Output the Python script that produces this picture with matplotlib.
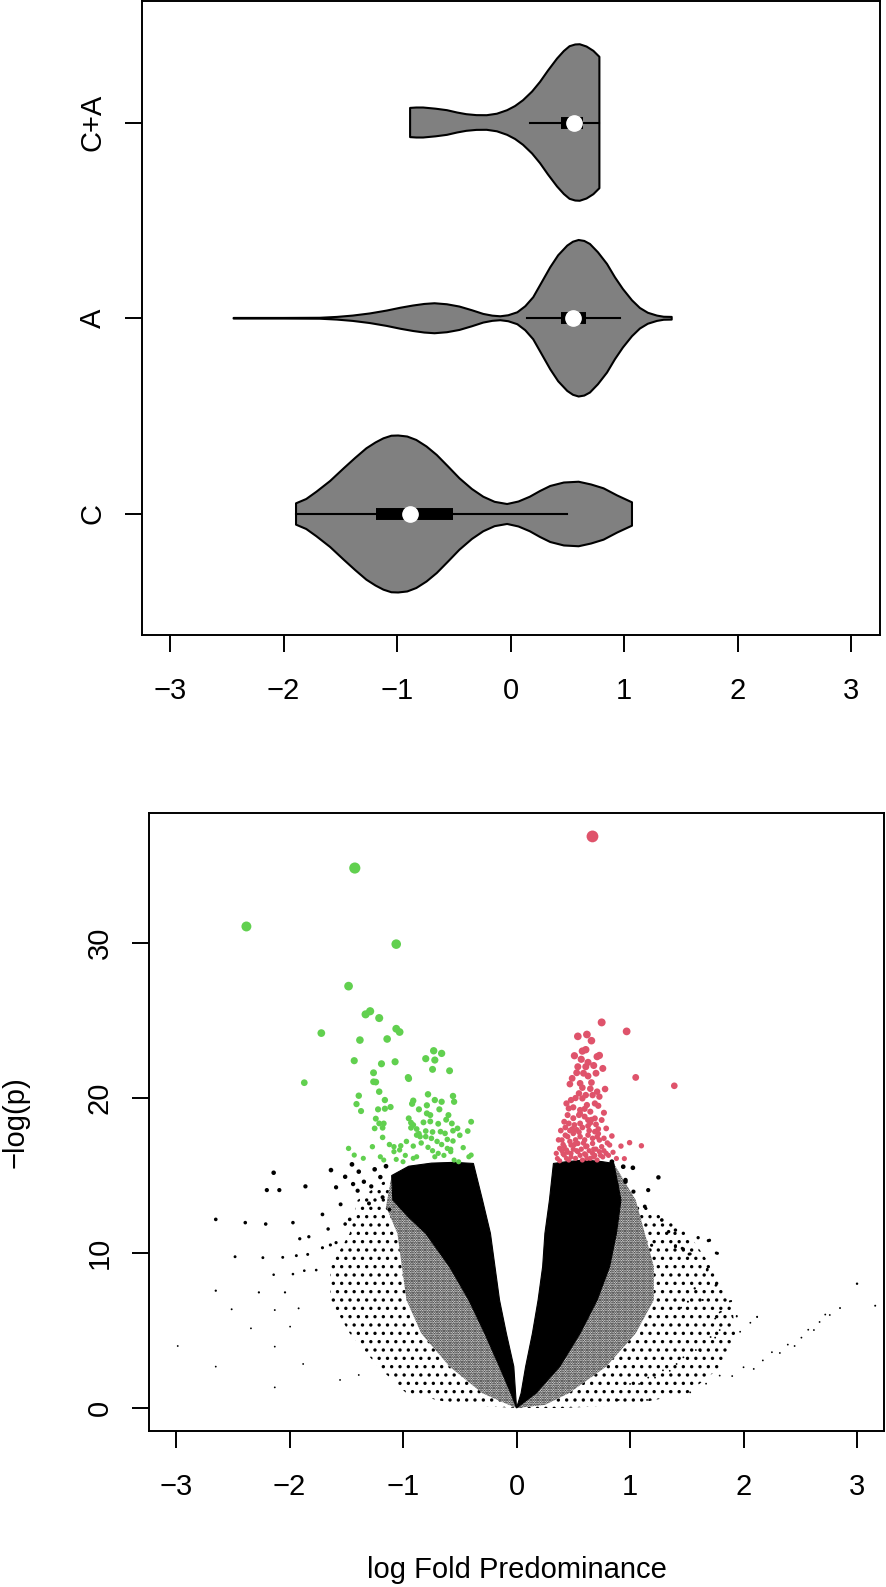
import numpy as np
import matplotlib.pyplot as plt

plt.rcParams['font.family'] = ['Liberation Sans', 'DejaVu Sans']
plt.rcParams['hatch.color'] = 'black'
plt.rcParams['hatch.linewidth'] = 1.2

# ---------------- violin panel data ----------------
groups = ['C', 'A', 'C+A']

# density outline: x positions and relative half-width (1 = widest)
c_x = [-1.89, -1.80, -1.71, -1.59, -1.47, -1.37, -1.27, -1.19, -1.12, -1.05, -0.99,
       -0.91, -0.83, -0.74, -0.65, -0.55, -0.45, -0.34, -0.24, -0.14, -0.03, 0.07,
       0.17, 0.26, 0.35, 0.47, 0.60, 0.71, 0.82, 0.94, 1.07]
c_d = [0.136, 0.191, 0.284, 0.420, 0.582, 0.713, 0.837, 0.911, 0.964, 0.997, 1.0,
       0.987, 0.943, 0.860, 0.752, 0.605, 0.455, 0.318, 0.220, 0.155, 0.127, 0.159,
       0.220, 0.293, 0.357, 0.401, 0.411, 0.376, 0.327, 0.236, 0.149]

a_x = [-2.44, -2.0, -1.68, -1.53, -1.39, -1.24, -1.09, -0.97, -0.86, -0.76, -0.67,
       -0.56, -0.45, -0.34, -0.24, -0.16, -0.09, -0.02, 0.06, 0.13, 0.20, 0.27, 0.35,
       0.42, 0.50, 0.55, 0.60, 0.65, 0.70, 0.77, 0.85, 0.92, 0.99, 1.07, 1.14, 1.21,
       1.29, 1.35, 1.42]
a_d = [0.004, 0.004, 0.006, 0.017, 0.034, 0.061, 0.098, 0.134, 0.162, 0.182, 0.191,
       0.178, 0.149, 0.102, 0.055, 0.033, 0.025, 0.038, 0.076, 0.153, 0.268, 0.446,
       0.650, 0.803, 0.926, 0.975, 0.997, 0.985, 0.946, 0.841, 0.692, 0.522, 0.373,
       0.229, 0.131, 0.070, 0.034, 0.019, 0.017]

ca_x = [-0.885, -0.83, -0.77, -0.66, -0.56, -0.47, -0.39, -0.30, -0.21, -0.12, -0.03,
        0.04, 0.11, 0.19, 0.26, 0.33, 0.41, 0.47, 0.52, 0.57, 0.61, 0.67, 0.73, 0.783]
ca_d = [0.186, 0.191, 0.191, 0.176, 0.157, 0.127, 0.106, 0.094, 0.093, 0.112, 0.157,
        0.210, 0.284, 0.395, 0.518, 0.662, 0.815, 0.911, 0.972, 0.994, 0.997, 0.968,
        0.913, 0.837]

# box stats: whisker low, q1, median, q3, whisker high
c_box = [-1.89, -1.185, -0.885, -0.51, 0.495]
a_box = [0.143, 0.442, 0.553, 0.662, 0.965]
ca_box = [0.172, 0.442, 0.559, 0.636, 0.783]

# ---------------- volcano panel data ----------------
green_x = [-2.38, -1.425, -1.06, -1.48, -1.33, -1.29, -1.21, -1.72, -1.06, -1.03, -1.38,
           -1.14, -1.87, -1.43, -1.19, -1.07, -1.26, -1.26, -1.24, -0.95, -0.955, -0.73,
           -0.66, -0.80, -0.72, -0.74, -0.59, -1.21, -1.39, -1.41, -1.37, -1.16, -1.22,
           -1.16, -1.11, -0.91, -0.92, -0.78, -0.79, -0.72, -0.66, -0.56, -0.55, -0.86,
           -0.79, -0.68, -1.24, -1.21, -1.17, -1.25, -1.18, -1.18, -0.95, -0.93, -0.91,
           -0.93, -0.88, -0.82, -0.76, -0.69, -0.80, -0.74, -0.67, -0.63, -0.56, -0.57,
           -0.52, -0.43, -0.40, -0.88, -0.85, -0.80, -0.75, -0.61, -0.56, -1.48, -1.27,
           -1.08, -1.02, -1.03, -1.08, -0.91, -0.78, -0.74, -0.69, -0.61, -0.58, -0.58,
           -1.43, -1.35, -1.20, -1.17, -1.06, -1.00, -0.91, -0.88, -0.72, -0.55, -0.42,
           -0.40, -0.51,
           -0.84, -0.70, -0.64, -0.97, -0.60, -0.47, -0.66, -0.76, -0.86, -0.62, -0.50,
           -1.12, -0.98]
green_y = [31.07, 34.84, 29.93, 27.22, 25.4, 25.6, 25.16, 24.19, 24.47, 24.26, 23.74,
           23.81, 20.99, 22.41, 22.21, 22.34, 21.63, 21.05, 21.03, 21.25, 21.33, 23.05,
           22.88, 22.54, 22.45, 21.85, 21.76, 20.41, 20.15, 19.61, 19.16, 19.87, 19.27,
           19.31, 19.42, 19.83, 19.63, 20.24, 19.53, 19.87, 19.76, 20.13, 19.76, 19.27,
           19.01, 19.27, 18.67, 18.36, 18.36, 18.04, 18.08, 17.46, 18.69, 18.41, 18.26,
           18.08, 18.0, 18.43, 18.49, 18.34, 17.87, 17.81, 17.83, 17.72, 17.89, 18.36,
           18.04, 17.87, 18.47, 17.61, 17.51, 17.51, 17.40, 17.33, 17.23, 16.75, 16.86,
           16.86, 16.92, 16.65, 16.54, 16.90, 16.82, 16.60, 16.43, 16.75, 16.69, 16.54,
           16.32, 16.11, 16.21, 16.0, 16.04, 15.89, 16.11, 16.21, 16.21, 16.0, 16.21,
           16.32, 15.89,
           17.1, 17.2, 16.3, 17.2, 18.9, 16.8, 17.0, 18.9, 17.7, 18.6, 17.6,
           17.0, 16.3]

red_x = [0.669, 0.75, 0.97, 0.54, 0.66, 0.58, 0.61, 0.51, 0.71, 0.73, 0.54, 0.61, 0.76,
         0.53, 0.63, 0.49, 1.05, 0.47, 0.56, 0.58, 1.39, 0.78, 0.71, 0.67, 0.73, 0.61,
         0.58, 0.62, 0.69, 0.44, 0.48, 0.46, 0.56, 0.65, 0.77, 0.42, 0.46, 0.51, 0.56,
         0.63, 0.69, 0.75, 0.79, 0.84, 0.40, 0.45, 0.50, 0.56, 0.63, 0.69, 0.73, 0.42,
         0.48, 0.54, 0.61, 0.67, 0.75, 0.82, 0.92, 0.996, 1.10, 0.35, 0.42, 0.48, 0.54,
         0.61, 0.67, 0.73, 0.79, 0.46, 0.52, 0.58, 0.65, 0.71, 0.95, 0.38, 0.44,
         0.45, 0.50, 0.55, 0.60, 0.65, 0.70, 0.47, 0.53, 0.58, 0.64, 0.72, 0.43, 0.52,
         0.60, 0.67, 0.77, 0.40, 0.50, 0.57, 0.64, 0.70, 0.77, 0.44, 0.56, 0.62, 0.68,
         0.76, 0.85, 0.88, 0.36, 0.41, 0.38, 0.65, 0.55, 0.52, 0.50, 0.60, 0.72, 0.66,
         0.70, 0.59, 0.63, 0.68, 0.57, 0.62,
         0.39, 0.43, 0.47, 0.51, 0.55, 0.59, 0.63, 0.68, 0.72, 0.80, 0.41, 0.49, 0.53,
         0.62, 0.66, 0.74, 0.37, 0.45, 0.56, 0.71, 0.81, 0.48, 0.60, 0.69]
red_y = [36.88, 24.88, 24.30, 23.98, 23.7, 23.03, 23.12, 22.73, 22.67, 22.75, 22.02,
         22.02, 21.91, 21.63, 21.42, 21.27, 21.33, 20.9, 20.95, 20.67, 20.79, 20.58,
         20.41, 20.19, 20.09, 20.19, 19.98, 19.55, 19.65, 19.65, 19.87, 19.33, 19.23,
         19.12, 19.05, 18.47, 18.36, 18.26, 18.36, 18.58, 18.69, 18.58, 18.04, 17.55,
         17.29, 17.51, 17.72, 17.51, 17.61, 17.83, 17.29, 16.86, 16.97, 17.07, 16.86,
         17.07, 16.86, 16.97, 16.90, 17.12, 16.92, 16.43, 16.32, 16.43, 16.54, 16.32,
         16.43, 16.54, 16.43, 16.0, 16.11, 16.0, 16.11, 16.0, 16.09, 16.75, 16.65,
         18.9, 18.7, 18.9, 18.8, 18.4, 18.3, 17.9, 17.95, 18.1, 17.9, 17.7, 17.6, 17.3,
         17.3, 17.4, 17.4, 16.6, 16.7, 16.7, 16.6, 16.7, 16.6, 16.1, 16.3, 16.1, 16.2,
         16.2, 16.5, 16.1, 16.1, 17.0, 15.95, 20.6, 20.3, 20.0, 19.4, 19.3, 19.5, 21.0,
         21.6, 21.6, 22.3, 22.1, 22.5, 24.1,
         17.9, 18.1, 17.2, 17.0, 17.8, 17.1, 18.2, 16.7, 18.0, 17.1, 16.4, 18.0, 16.6,
         16.9, 18.6, 16.3, 17.3, 16.5, 19.0, 17.5, 16.3, 16.2, 16.4, 16.3]

# scattered non-significant genes outside the dense cloud
black_x = [-2.14, -2.20, -2.09, -1.86, -1.635, -1.59, -1.51, -1.45, -1.39, -1.44, -1.345,
           -1.40, -1.55, -1.71, -2.65, -2.39, -2.21, -1.97, -1.66, -1.51, -1.47, -1.91,
           -1.83, -1.71, -1.64, -1.59, -2.48, -2.235, -2.06, -1.94, -1.84, -2.65, -2.27,
           -2.14, -2.04, -1.97, -1.87, -1.765, -2.51, -2.13, -1.92, -2.34, -1.995, -2.985,
           -2.13, -2.65, -1.88, -2.13, -1.555, -1.39, -1.25, -1.20, -1.15, -1.28, -1.18,
           -1.30, -1.12,
           3.0, 3.16, 2.85, 2.76, 2.72, 2.67, 2.62, 2.57, 2.51, 2.45, 2.39, 2.32, 2.25,
           2.17, 2.09, 2.0, 1.90, 1.79, 1.67, 1.53, 1.35, 1.15, 0.90, 2.12, 2.06, 1.94,
           1.90, 1.88, 1.97, 1.79, 1.75, 1.71, 1.79, 1.75, 1.755, 1.68, 1.76, 1.52, 1.46,
           1.40, 1.19, 1.69, 1.64, 1.57, 1.51, 1.45, 1.62, 1.58, 1.47, 1.41, 1.35, 1.29,
           1.22, 1.16, 1.08, 1.0, 1.25, 1.16, 1.025, 0.96, 1.28, 1.40, 1.34, 1.60, 1.70,
           1.77, 1.53, 1.40, 1.47, 1.76, 1.89, 1.68, 2.12, 1.94, 1.80, 0.84, 0.94, 0.96,
           0.88, 1.03, 1.13]
black_y = [15.18, 14.06, 14.06, 14.30, 15.35, 14.24, 14.92, 15.72, 15.25, 14.45, 14.6,
           14.02, 13.14, 12.49, 12.17, 11.96, 11.87, 11.96, 11.55, 11.87, 12.17, 10.92,
           11.05, 10.34, 10.52, 10.67, 9.76, 9.70, 9.72, 9.83, 9.91, 7.57, 7.46, 8.60,
           7.46, 8.64, 8.86, 8.90, 6.37, 6.32, 6.43, 5.14, 5.25, 4.0, 3.96, 2.67, 2.84,
           1.33, 1.81, 2.13, 15.4, 14.9, 15.6, 14.3, 13.6, 13.2, 12.8,
           8.02, 6.6, 6.45, 6.0, 6.03, 5.55, 5.03, 5.05, 4.54, 4.0, 4.09, 3.55, 3.6,
           3.07, 2.52, 2.63, 2.06, 2.09, 1.57, 1.01, 1.06, 0.52, 0.52, 5.87, 5.5, 5.9,
           5.95, 6.88, 4.92, 5.03, 4.54, 4.58, 6.17, 5.77, 7.91, 8.95, 10.0, 9.93, 10.3,
           10.47, 10.5, 10.8, 6.97, 7.72, 6.86, 6.47, 3.68, 3.74, 3.27, 2.84, 2.4, 2.43,
           1.96, 1.96, 1.55, 1.55, 14.88, 14.06, 15.5, 14.71, 12.13, 11.48, 11.38, 10.99,
           10.82, 9.98, 9.94, 10.41, 10.26, 7.93, 6.9, 8.9, 5.89, 5.94, 6.21, 15.89, 15.57,
           14.6, 14.4, 13.96, 13.0]

# edges of the dense point cloud, each listed from (0, 0) upwards
l_inner_x = [0, -0.024, -0.09, -0.15, -0.19, -0.23, -0.30, -0.38]
l_inner_y = [0, 2.67, 4.82, 6.97, 9.12, 11.27, 13.42, 15.78]
l_top_x = [-0.55, -0.75, -0.95]
l_top_y = [15.85, 15.8, 15.6]
l_core_x = [0, -0.05, -0.15, -0.28, -0.42, -0.59, -0.80, -0.95, -1.09, -1.10]
l_core_y = [0, 0.95, 2.67, 4.82, 6.97, 9.12, 11.27, 12.3, 13.42, 15.0]
l_fan_x = [0, -0.10, -0.30, -0.59, -0.84, -0.97, -1.01, -1.05, -1.15, -1.10]
l_fan_y = [0, 0.3, 0.95, 2.67, 4.82, 6.97, 9.12, 11.27, 13.0, 15.0]
l_sparse_x = [0, -0.50, -0.97, -1.22, -1.47, -1.64, -1.64, -1.47, -1.40, -1.10]
l_sparse_y = [0, 0.2, 0.95, 2.67, 4.82, 6.97, 9.12, 11.27, 13.42, 15.0]

r_inner_x = [0, 0.04, 0.08, 0.14, 0.19, 0.23, 0.25, 0.29, 0.325]
r_inner_y = [0, 0.95, 2.67, 4.82, 6.97, 9.12, 11.27, 13.42, 15.78]
r_top_x = [0.45, 0.60, 0.75]
r_top_y = [15.9, 16.0, 15.9]
r_core_x = [0, 0.17, 0.38, 0.56, 0.71, 0.82, 0.88, 0.92, 0.857]
r_core_y = [0, 0.95, 2.67, 4.82, 6.97, 9.12, 11.27, 13.42, 15.78]
r_fan_x = [0, 0.25, 0.46, 0.79, 1.05, 1.21, 1.21, 1.13, 1.05, 0.857]
r_fan_y = [0, 0.2, 0.95, 2.67, 4.82, 6.97, 9.12, 11.27, 13.42, 15.78]
r_sparse_x = [0, 0.40, 1.00, 1.51, 1.80, 1.93, 1.89, 1.72, 1.51, 1.05, 0.857]
r_sparse_y = [0, 0.0, 0.2, 0.95, 2.67, 4.82, 6.97, 9.12, 11.27, 13.42, 15.78]


def dot_size(y, k=0.3):
    # marker diameter grows with -log(p), like the original
    d_px = np.maximum(k * np.asarray(y), 1.8)
    return (d_px * 0.72) ** 2


def band(ax, x1, y1, x2, y2, **kw):
    # area between two edges that both run from (0, 0) to the top
    ax.fill(np.concatenate([x1, x2[::-1]]), np.concatenate([y1, y2[::-1]]), **kw)


fig = plt.figure(figsize=(8.86, 15.87), dpi=100)
ax1 = fig.add_axes([0.1603, 0.5999, 0.833, 0.3995])
ax2 = fig.add_axes([0.1682, 0.0983, 0.8296, 0.3894])

# violins
violins = [(c_x, c_d, c_box), (a_x, a_d, a_box), (ca_x, ca_d, ca_box)]
for i, (vx, vd, st) in enumerate(violins):
    pos = i + 1
    vx = np.array(vx)
    hw = np.array(vd) * 0.401
    px = np.concatenate([vx, vx[::-1]])
    py = np.concatenate([pos + hw, (pos - hw)[::-1]])
    ax1.fill(px, py, facecolor='#808080', edgecolor='black', lw=1.5, joinstyle='round')
    ax1.plot([st[0], st[4]], [pos, pos], color='black', lw=1.5)
    ax1.plot([st[1], st[3]], [pos, pos], color='black', lw=8.6, solid_capstyle='butt')
    ax1.plot(st[2], pos, 'o', ms=11, mfc='white', mec='white')

ax1.set_xlim(-3.247, 3.256)
ax1.set_ylim(0.382, 3.621)
ax1.set_xticks(range(-3, 4))
ax1.set_yticks([1, 2, 3])
ax1.set_yticklabels(groups, rotation=90, va='center')

# volcano: dense cloud as bands, then the individual genes
sides = [
    (l_inner_x, l_inner_y, l_top_x, l_top_y, l_core_x, l_core_y, l_fan_x, l_fan_y,
     l_sparse_x, l_sparse_y),
    (r_inner_x, r_inner_y, r_top_x, r_top_y, r_core_x, r_core_y, r_fan_x, r_fan_y,
     r_sparse_x, r_sparse_y),
]
for inx, iny, tx, ty, cx, cy, fx, fy, sx, sy in sides:
    inx, iny, tx, ty = map(np.array, (inx, iny, tx, ty))
    cx, cy, fx, fy, sx, sy = map(np.array, (cx, cy, fx, fy, sx, sy))
    band(ax2, fx, fy, sx, sy, facecolor='none', edgecolor='black', lw=0,
         hatch='..', zorder=1)
    band(ax2, cx, cy, fx, fy, facecolor='none', edgecolor='black', lw=0,
         hatch='.......', zorder=2)
    band(ax2, np.concatenate([inx, tx]), np.concatenate([iny, ty]), cx, cy,
         color='black', lw=0.8, zorder=3)

ax2.scatter(black_x, black_y, s=dot_size(black_y), c='black', lw=0, zorder=4)
ax2.scatter(green_x, green_y, s=dot_size(green_y, 0.32), c='#61D04F', lw=0, zorder=5)
ax2.scatter(red_x, red_y, s=dot_size(red_y, 0.32), c='#DF536B', lw=0, zorder=5)

ax2.set_xlim(-3.238, 3.238)
ax2.set_ylim(-1.484, 38.39)
ax2.set_xticks(range(-3, 4))
ax2.set_yticks([0, 10, 20, 30])
ax2.set_yticklabels(['0', '10', '20', '30'], rotation=90, va='center')
ax2.set_xlabel('log Fold Predominance', fontsize=21)
ax2.set_ylabel('\u2212log(p)', fontsize=21)
ax2.xaxis.set_label_coords(0.5, -0.203)
ax2.yaxis.set_label_coords(-0.162, 0.5)

for ax in (ax1, ax2):
    for sp in ax.spines.values():
        sp.set_linewidth(1.4)
    ax.tick_params(length=12.5, width=1.4, labelsize=21, direction='out')
    ax.tick_params(axis='x', pad=18)
    ax.tick_params(axis='y', pad=13)

fig.savefig('out.png', dpi=100)
